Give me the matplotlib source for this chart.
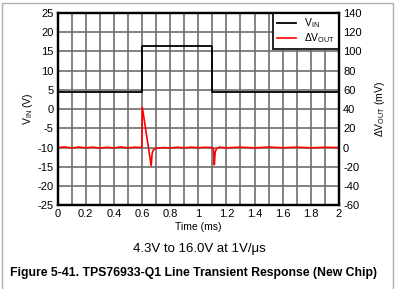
import matplotlib.pyplot as plt
import matplotlib.patches as patches
from matplotlib.ticker import MultipleLocator

plt.rcParams['font.family'] = ['Liberation Sans', 'DejaVu Sans']
plt.rcParams['axes.unicode_minus'] = False

# input step (V)
vin_t = [0, 0.6, 0.6, 1.1, 1.1, 2.0]
vin_v = [4.5, 4.5, 16.5, 16.5, 4.5, 4.5]

# output deviation (mV)
dv_t = [0, 0.05, 0.1, 0.15, 0.2, 0.25, 0.3, 0.35, 0.4, 0.45, 0.5, 0.55, 0.598,
        0.602, 0.665, 0.672, 0.68, 0.69, 0.7, 0.75, 0.8, 0.85, 0.9, 0.95, 1.0,
        1.05, 1.1, 1.108, 1.114, 1.12, 1.13, 1.15, 1.2, 1.3, 1.4, 1.5, 1.6,
        1.7, 1.8, 1.9, 2.0]
dv_mv = [0, 0.6, -0.4, 0.5, -0.3, 0.4, -0.5, 0.3, -0.4, 0.6, -0.3, 0.4, 0,
         42, -19, -6, -2.5, -1.5, -0.8, 0, -0.4, 0.3, -0.3, 0.4, -0.2,
         0.3, 0, -2, -18, -5, -1, 0.4, -0.3, 0.4, -0.3, 0.5, -0.2,
         0.4, -0.3, 0.3, 0]

fig = plt.figure(figsize=(3.95, 2.89), dpi=100)
fig.patches.append(patches.Rectangle((0.005, -0.01), 0.99, 1.0, transform=fig.transFigure,
                                     fill=False, edgecolor='#b0b0b0', lw=1))
ax = fig.add_axes([0.146, 0.29, 0.712, 0.665])
ax2 = ax.twinx()

l1, = ax.plot(vin_t, vin_v, color='black', lw=1.3, label='V$_{\\mathregular{IN}}$')
l2, = ax2.plot(dv_t, dv_mv, color='#ff0000', lw=1.2, label='ΔV$_{\\mathregular{OUT}}$')

ax.set_xlim(0, 2)
ax.set_ylim(-25, 25)
ax2.set_ylim(-60, 140)
ax.xaxis.set_major_locator(MultipleLocator(0.2))
ax.xaxis.set_minor_locator(MultipleLocator(0.1))
ax.yaxis.set_major_locator(MultipleLocator(5))
ax2.yaxis.set_major_locator(MultipleLocator(20))
ax.set_xticklabels([f'{x:g}' for x in ax.get_xticks()])

ax.grid(True, which='both', axis='x', color='#6e6e6e', lw=1.2)
ax.grid(True, which='major', axis='y', color='#6e6e6e', lw=1.2)
ax.set_axisbelow(True)

for a in (ax, ax2):
    for s in a.spines.values():
        s.set_linewidth(1.6)
    a.tick_params(which='both', length=0, labelsize=8, pad=3)

ax.set_xlabel('Time (ms)', fontsize=7.5, labelpad=2)
ax.set_ylabel('V$_{\\mathregular{IN}}$ (V)', fontsize=7.5, labelpad=2)
ax2.set_ylabel('ΔV$_{\\mathregular{OUT}}$ (mV)', fontsize=7.5, labelpad=8)

leg = ax.legend(handles=[l1, l2], loc='upper right', fontsize=7.5, frameon=True,
                fancybox=False, edgecolor='black', borderaxespad=0, handlelength=1.8,
                labelspacing=0.1, borderpad=0.35)
leg.get_frame().set_linewidth(1.2)
leg.get_frame().set_alpha(1)

fig.text(0.505, 0.14, '4.3V to 16.0V at 1V/μs', ha='center', va='center', fontsize=9.5)
fig.text(0.025, 0.055, 'Figure 5-41. TPS76933-Q1 Line Transient Response (New Chip)',
         ha='left', va='center', fontsize=8.8, fontweight='bold')

fig.savefig('out.png', dpi=100)
